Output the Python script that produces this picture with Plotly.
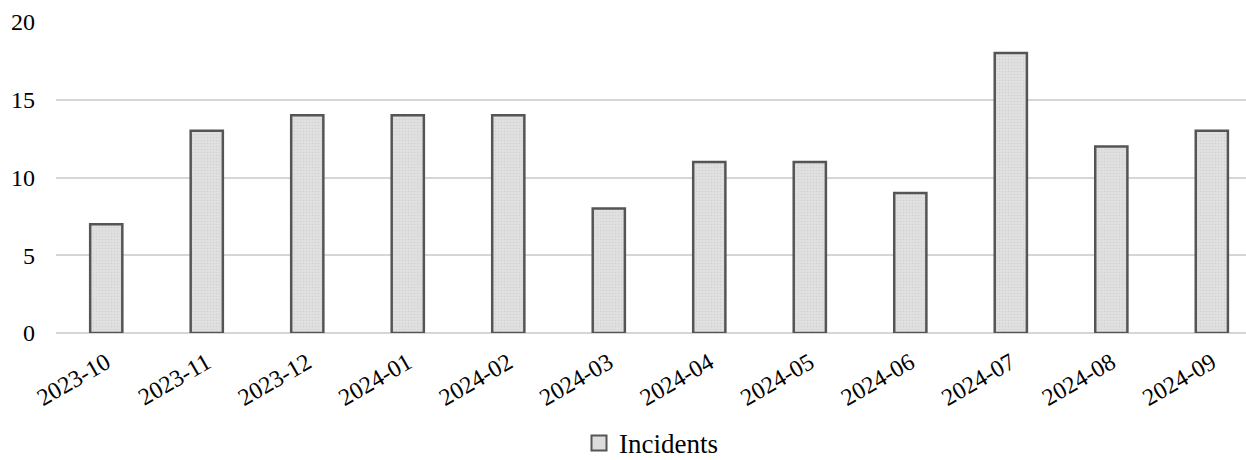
import plotly.graph_objects as go

months = ["2023-10", "2023-11", "2023-12", "2024-01", "2024-02", "2024-03",
          "2024-04", "2024-05", "2024-06", "2024-07", "2024-08", "2024-09"]
incidents = [7, 13, 14, 14, 14, 8, 11, 11, 9, 18, 12, 13]
y_ticks = [0, 5, 10, 15, 20]

serif = "Liberation Serif, Times New Roman, serif"
bar_fill = "#dcdcdc"
bar_edge = "#555555"

fig = go.Figure()

fig.add_trace(
    go.Bar(
        x=months,
        y=incidents,
        name="Incidents",
        width=0.32,
        marker=dict(
            color=bar_fill,
            line=dict(color=bar_edge, width=2.5),
            pattern=dict(shape=".", fgcolor="#c4c4c4", bgcolor="#e0e0e0",
                         size=3, solidity=0.25),
        ),
        showlegend=False,
    )
)

# Legend entry with a larger square swatch
fig.add_trace(
    go.Scatter(
        x=[None],
        y=[None],
        mode="markers",
        name="Incidents",
        marker=dict(symbol="square", size=15, color=bar_fill,
                    line=dict(color=bar_edge, width=2)),
        showlegend=True,
    )
)

fig.update_layout(
    width=1246,
    height=460,
    margin=dict(l=56, r=0, t=22, b=127, autoexpand=False),
    paper_bgcolor="white",
    plot_bgcolor="white",
    font=dict(family=serif, color="#000000"),
    legend=dict(
        orientation="h",
        x=0.5, xanchor="center",
        y=-0.355, yanchor="middle",
        font=dict(size=27, family=serif),
        itemwidth=30,
    ),
    xaxis=dict(
        type="category",
        range=[-0.5, 11.34],
        tickangle=-30,
        tickfont=dict(size=24, family=serif),
        showgrid=False,
        showline=False,
        ticks="",
        automargin=False,
        ticklabelstandoff=10,
    ),
    yaxis=dict(
        range=[0, 20],
        tickvals=y_ticks,
        tickfont=dict(size=24, family=serif),
        showgrid=True,
        gridcolor="#d6d6d6",
        gridwidth=1.5,
        zeroline=True,
        zerolinecolor="#d6d6d6",
        zerolinewidth=1.5,
        showline=False,
        ticks="",
        automargin=False,
        ticklabelstandoff=20,
    ),
)

fig.write_html("out.html")
